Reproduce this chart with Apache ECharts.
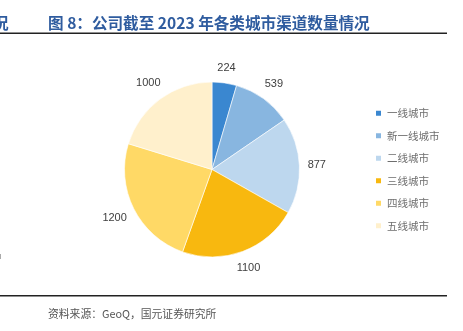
<!DOCTYPE html>
<html>
<head>
<meta charset="utf-8">
<script src="https://cdn.jsdelivr.net/npm/echarts@6/dist/echarts.min.js"></script>
<style>
  html, body { margin: 0; padding: 0; background: #fff; }
  #chart { width: 463px; height: 331px; }
</style>
</head>
<body>
<div id="chart"></div>
<script>
// City tiers and channel counts as of 2023
const categories = ['一线城市', '新一线城市', '二线城市', '三线城市', '四线城市', '五线城市'];
const channelCounts = [224, 539, 877, 1100, 1200, 1000];
const sliceColors = ['#3A87D0', '#88B6E0', '#BDD7EE', '#F8B80F', '#FFD966', '#FFF0CC'];

const titleText = '图 8：公司截至 2023 年各类城市渠道数量情况';
const sourceText = '资料来源：GeoQ，国元证券研究所';

const cjk = '"Noto Sans CJK SC", "Liberation Sans", sans-serif';

// pie geometry
const pieCenter = [212, 169.5];
const pieRadius = 87.5;
const labelGap = 8;

// Place each value label just outside the rim along its slice's mid-angle,
// pushing the label box out so its near side sits labelGap px from the rim.
const total = channelCounts.reduce((a, b) => a + b, 0);
function midAngle(i) {
  let before = 0;
  for (let k = 0; k < i; k++) before += channelCounts[k];
  return (before + channelCounts[i] / 2) / total * Math.PI * 2; // clockwise from top
}
function layoutLabel(params) {
  const a = midAngle(params.dataIndex);
  const dx = Math.sin(a), dy = -Math.cos(a);
  const w = params.labelRect.width, h = params.labelRect.height;
  const half = (w / 2) * Math.abs(dx) + (h / 2) * Math.abs(dy);
  const d = pieRadius + labelGap + half;
  return {
    x: pieCenter[0] + d * dx,
    y: pieCenter[1] + d * dy,
    align: 'center',
    verticalAlign: 'middle'
  };
}

const chart = echarts.init(document.getElementById('chart'), null, { renderer: 'canvas' });

chart.setOption({
  backgroundColor: '#fff',
  animation: false,
  color: sliceColors,
  title: [
    {
      text: titleText,
      left: 43, top: 10,
      textStyle: { fontFamily: cjk, fontSize: 15.6, fontWeight: 'bold', color: '#2F5C9F' }
    },
    {
      text: '况',
      left: -12, top: 10,
      textStyle: { fontFamily: cjk, fontSize: 15.6, fontWeight: 'bold', color: '#2F5C9F' }
    },
    {
      text: sourceText,
      left: 43, top: 304,
      textStyle: { fontFamily: cjk, fontSize: 10.8, fontWeight: 'normal', color: '#555' }
    }
  ],
  legend: {
    orient: 'vertical',
    left: 369, top: 103,
    itemWidth: 7, itemHeight: 7,
    itemGap: 12,
    itemTextGap: 3,
    icon: 'rect',
    textStyle: { fontFamily: cjk, fontSize: 10.5, lineHeight: 9.8, color: '#6e6e6e' },
    data: categories
  },
  graphic: [
    { type: 'rect', shape: { x: 0, y: 32.5, width: 447, height: 1.5 }, style: { fill: '#222' } },
    { type: 'rect', shape: { x: 0, y: 295, width: 447, height: 1.5 }, style: { fill: '#222' } },
    { type: 'rect', shape: { x: 0, y: 254, width: 1, height: 5 }, style: { fill: '#aaa' } }
  ],
  series: [{
    type: 'pie',
    center: pieCenter,
    radius: ['0%', pieRadius],
    startAngle: 90,
    clockwise: true,
    avoidLabelOverlap: false,
    itemStyle: { borderColor: '#fff', borderWidth: 0.6 },
    label: {
      show: true,
      position: 'outside',
      formatter: '{c}',
      fontFamily: '"Liberation Sans", Arial, sans-serif',
      fontSize: 11,
      color: '#404040'
    },
    labelLine: { show: false },
    labelLayout: layoutLabel,
    data: categories.map((name, i) => ({ name, value: channelCounts[i] }))
  }]
});
</script>
</body>
</html>
